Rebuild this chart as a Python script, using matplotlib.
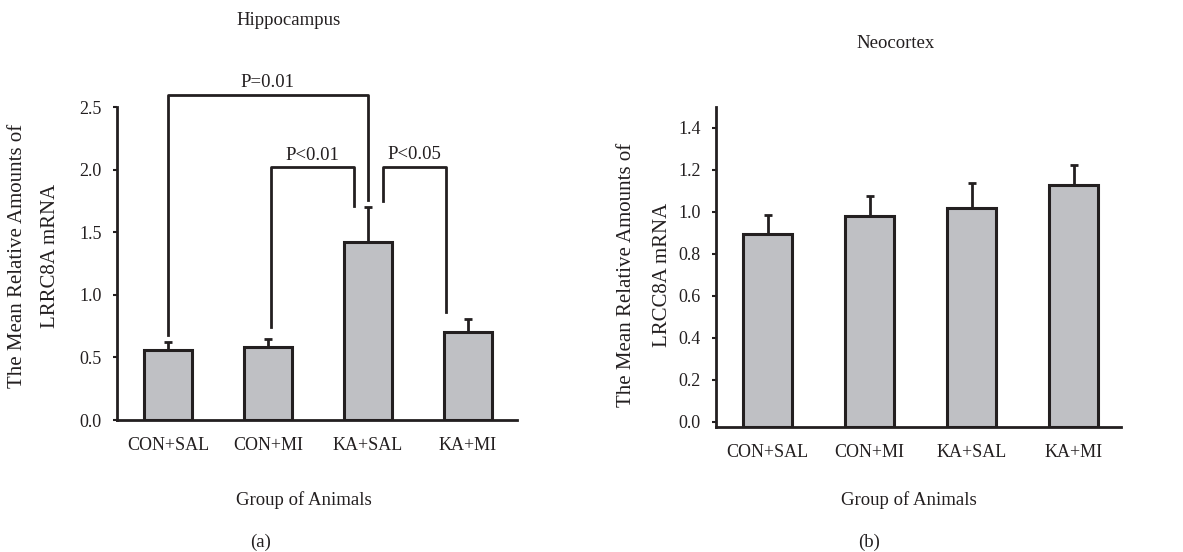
import matplotlib.pyplot as plt
import numpy as np

plt.rcParams['font.family'] = ['Liberation Serif', 'DejaVu Serif']

# Data
groups_a = ["CON+SAL", "CON+MI", "KA+SAL", "KA+MI"]
hippo_mean = [0.56, 0.58, 1.42, 0.70]
hippo_err = [0.06, 0.07, 0.28, 0.11]

groups_b = ["CON+SAL", "CON+MI", "KA+SAL", "KA+MI"]
neo_mean = [0.895, 0.98, 1.02, 1.13]
neo_err = [0.09, 0.095, 0.115, 0.095]

# significance brackets: left x, right x, top y, left leg end, right leg end, label, label y
brackets = [
    (0.0, 2.0, 2.60, 0.68, 1.76, "P=0.01", 2.70),
    (1.03, 1.86, 2.02, 0.74, 1.71, "P<0.01", 2.11),
    (2.15, 2.78, 2.02, 1.75, 0.86, "P<0.05", 2.12),
]

bar_color = "#bfc0c4"
edge = "#231f20"

fig = plt.figure(figsize=(11.83, 5.52), dpi=100)


def style_axes(ax):
    for s in ["top", "right"]:
        ax.spines[s].set_visible(False)
    for s in ["left", "bottom"]:
        ax.spines[s].set_linewidth(2)
        ax.spines[s].set_color(edge)
    ax.tick_params(axis="y", length=3, width=1.5, pad=8, labelsize=13, colors=edge)
    ax.tick_params(axis="x", length=0, pad=12, labelsize=13, colors=edge)


# (a) Hippocampus
ax1 = fig.add_axes([0.0989, 0.239, 0.338, 0.567])
x = np.arange(len(groups_a))
ax1.bar(x, hippo_mean, width=0.48, color=bar_color, edgecolor=edge, linewidth=2.2, zorder=2)
ax1.errorbar(x, hippo_mean, yerr=[np.zeros(len(x)), hippo_err], fmt="none",
             ecolor=edge, elinewidth=2, capsize=3, capthick=2, zorder=3)
ax1.set_xlim(-0.51, 3.49)
ax1.set_ylim(0, 2.5)
ax1.set_yticks([0.0, 0.5, 1.0, 1.5, 2.0, 2.5])
ax1.set_yticklabels(["0.0", "0.5", "1.0", "1.5", "2.0", "2.5"])
ax1.set_xticks(x)
ax1.set_xticklabels(groups_a)
style_axes(ax1)

for x1, x2, ytop, yl, yr, lab, ly in brackets:
    ax1.plot([x1, x1, x2, x2], [yl, ytop, ytop, yr], color=edge, lw=2, clip_on=False, zorder=4)
    ax1.text((x1 + x2) / 2, ly, lab, ha="center", va="center", fontsize=13.5, color=edge)

# (b) Neocortex
ax2 = fig.add_axes([0.605, 0.2264, 0.343, 0.580])
x = np.arange(len(groups_b))
ymin = -0.025
ax2.bar(x, np.array(neo_mean) - ymin, bottom=ymin, width=0.48, color=bar_color,
        edgecolor=edge, linewidth=2.2, zorder=2)
ax2.errorbar(x, neo_mean, yerr=[np.zeros(len(x)), neo_err], fmt="none",
             ecolor=edge, elinewidth=2, capsize=3, capthick=2, zorder=3)
ax2.set_xlim(-0.51, 3.47)
ax2.set_ylim(ymin, 1.5)
ax2.set_yticks([0.0, 0.2, 0.4, 0.6, 0.8, 1.0, 1.2, 1.4])
ax2.set_yticklabels(["0.0", "0.2", "0.4", "0.6", "0.8", "1.0", "1.2", "1.4"])
ax2.set_xticks(x)
ax2.set_xticklabels(groups_b)
style_axes(ax2)

# Figure texts
kw = dict(fontsize=13.5, color=edge, ha="center", va="center")
fig.text(0.244, 0.962, "Hippocampus", **kw)
fig.text(0.757, 0.922, "Neocortex", **kw)
fig.text(0.257, 0.094, "Group of Animals", **kw)
fig.text(0.768, 0.094, "Group of Animals", **kw)
fig.text(0.220, 0.018, "(a)", **kw)
fig.text(0.735, 0.018, "(b)", **kw)
ykw = dict(kw, fontsize=15, rotation=90)
fig.text(0.0144, 0.536, "The Mean Relative Amounts of", **ykw)
fig.text(0.0423, 0.536, "LRRC8A mRNA", **ykw)
fig.text(0.530, 0.502, "The Mean Relative Amounts of", **ykw)
fig.text(0.5596, 0.502, "LRCC8A mRNA", **ykw)

fig.savefig("out.png", dpi=100)
